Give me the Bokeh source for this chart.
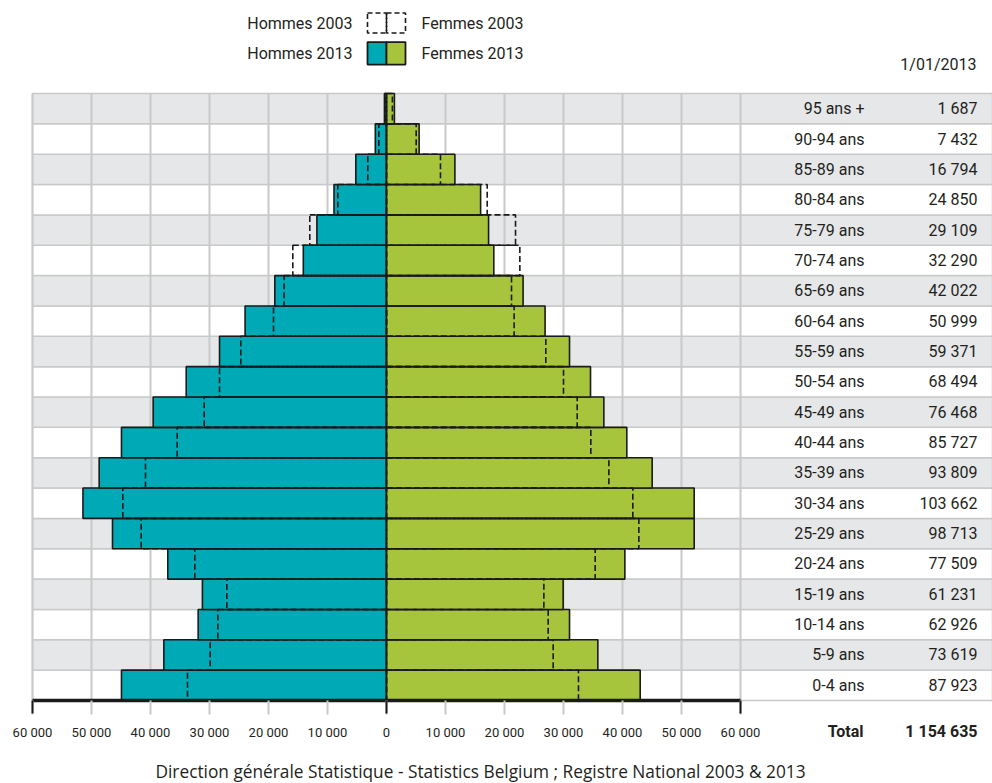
from bokeh.plotting import figure
from bokeh.models import Range1d, FixedTicker
from bokeh.core.properties import value
from bokeh.embed import file_html
from bokeh.resources import INLINE

# ---------------- data ----------------
ages = ["0-4 ans", "5-9 ans", "10-14 ans", "15-19 ans", "20-24 ans", "25-29 ans",
        "30-34 ans", "35-39 ans", "40-44 ans", "45-49 ans", "50-54 ans", "55-59 ans",
        "60-64 ans", "65-69 ans", "70-74 ans", "75-79 ans", "80-84 ans", "85-89 ans",
        "90-94 ans", "95 ans +"]
totals_2013 = [87923, 73619, 62926, 61231, 77509, 98713, 103662, 93809, 85727, 76468,
               68494, 59371, 50999, 42022, 32290, 29109, 24850, 16794, 7432, 1687]
men_2013 = [44920, 37740, 31920, 31200, 37070, 46440, 51450, 48700, 44920, 39550,
            33950, 28300, 23970, 18930, 14100, 11800, 8900, 5200, 1900, 350]
women_2013 = [43000, 35820, 31020, 29940, 40400, 52150, 52150, 45030, 40730, 36840,
              34580, 31020, 26880, 23150, 18190, 17300, 15950, 11590, 5530, 1340]
men_2003 = [33730, 29890, 28590, 27060, 32490, 41580, 44690, 40850, 35480, 30900,
            28300, 24700, 19150, 17360, 15880, 13000, 8250, 3170, 1300, 250]
women_2003 = [32540, 28250, 27400, 26670, 35370, 42770, 41750, 37690, 34630, 32320,
              30000, 27000, 21630, 21190, 22600, 21870, 17070, 9150, 5030, 1000]
x_ticks = [-60000, -50000, -40000, -30000, -20000, -10000, 0,
           10000, 20000, 30000, 40000, 50000, 60000]
strong_ticks = [-60000, 0, 60000]
legend_men = ["Hommes 2003", "Hommes 2013"]
legend_women = ["Femmes 2003", "Femmes 2013"]
date_label = "1/01/2013"
total_label = "Total"
source_text = "Direction générale Statistique - Statistics Belgium ; Registre National 2003 & 2013"


def fmt(v):
    return f"{abs(v):,}".replace(",", " ")


# ---------------- geometry helpers (pixel -> data) ----------------
W, H = 992, 783
X0_PX, X1_PX = 32, 740          # positions of -60000 and +60000
PX = (X1_PX - X0_PX) / 120000.0
TOP_PX, BOT_PX = 93, 700        # top of first row, bottom of last row
N = len(ages)
ROW = (BOT_PX - TOP_PX) / N


def dx(px):
    return -60000 + (px - X0_PX) / PX


def dy(py):
    return N - 0.5 + (TOP_PX - py) / ROW


FONT = "Roboto"
TXT = "#231f20"
TEAL = "#00a9b6"
GREEN = "#a7c43d"
EDGE = "#1a1a1a"
GRIDC = "#c9c9c9"

p = figure(width=W, height=H, x_range=Range1d(dx(0), dx(W)), y_range=Range1d(dy(H), dy(0)),
           output_backend="svg", toolbar_location=None, y_axis_location=None,
           min_border_left=0, min_border_right=0, min_border_top=0, min_border_bottom=0,
           outline_line_color=None, background_fill_color="white", border_fill_color="white")
p.xgrid.visible = False
p.ygrid.visible = False

idx = list(range(N))
stripe_colors = ["#e6e7e9" if i % 2 else "#ffffff" for i in idx]
p.hbar(y=idx, left=-60000, right=dx(W), height=1, fill_color=stripe_colors,
       line_color=GRIDC, line_width=1.5)
p.segment(x0=x_ticks, y0=-0.5, x1=x_ticks, y1=N - 0.5, line_color=GRIDC, line_width=2)

# 2013 bars
p.hbar(y=idx, left=[-m for m in men_2013], right=0, height=1, fill_color=TEAL,
       line_color=EDGE, line_width=1.6)
p.hbar(y=idx, left=0, right=women_2013, height=1, fill_color=GREEN,
       line_color=EDGE, line_width=1.6)
# 2003 outlines
p.hbar(y=idx, left=[-m for m in men_2003], right=0, height=1, fill_color=None,
       line_color=EDGE, line_width=1.6, line_dash="6 3")
p.hbar(y=idx, left=0, right=women_2003, height=1, fill_color=None,
       line_color=EDGE, line_width=1.6, line_dash="6 3")

# table on the right
p.text(x=dx(864), y=idx, text=ages, text_align="right", text_baseline="middle",
       text_font=value(FONT), text_font_size="16px", text_color=TXT)
p.text(x=dx(977), y=idx, text=[fmt(t) for t in totals_2013], text_align="right",
       text_baseline="middle", text_font=value(FONT), text_font_size="16px", text_color=TXT)

# legend
ly = [dy(22.5), dy(52.8)]
p.hbar(y=[ly[0], ly[0]], left=[dx(367), 0], right=[0, dx(405)], height=0.66,
       fill_color=None, line_color=EDGE, line_width=1.6, line_dash="5 3")
p.hbar(y=[ly[1]], left=[dx(367)], right=[0], height=0.74, fill_color=TEAL,
       line_color=EDGE, line_width=1.8)
p.hbar(y=[ly[1]], left=[0], right=[dx(405)], height=0.74, fill_color=GREEN,
       line_color=EDGE, line_width=1.8)
p.text(x=dx(352), y=ly, text=legend_men, text_align="right", text_baseline="middle",
       text_font=value(FONT), text_font_size="16px", text_color=TXT)
p.text(x=dx(421), y=ly, text=legend_women, text_align="left", text_baseline="middle",
       text_font=value(FONT), text_font_size="16px", text_color=TXT)
p.text(x=[dx(976)], y=[dy(64)], text=[date_label], text_align="right", text_baseline="middle",
       text_font=value(FONT), text_font_size="16px", text_color=TXT)

# totals row and source line
p.text(x=[dx(863)], y=[dy(731)], text=[total_label], text_align="right",
       text_baseline="middle", text_font=value(FONT), text_font_size="16px",
       text_font_style="bold", text_color=TXT)
p.text(x=[dx(977)], y=[dy(731)], text=[fmt(sum(totals_2013))], text_align="right",
       text_baseline="middle", text_font=value(FONT), text_font_size="16px",
       text_font_style="bold", text_color=TXT)
p.text(x=[dx(480)], y=[dy(771)], text=[source_text], text_align="center",
       text_baseline="middle", text_font=value("Open Sans"), text_font_size="17.3px",
       text_color=TXT)

# axis, fixed at the bottom of the last row
ax = p.xaxis[0]
ax.fixed_location = -0.5
ax.ticker = FixedTicker(ticks=x_ticks, minor_ticks=strong_ticks)
ax.bounds = (-60000, 60000)
ax.major_label_overrides = {t: fmt(t) for t in x_ticks}
ax.axis_line_width = 3.5
ax.axis_line_color = EDGE
ax.major_tick_line_color = GRIDC
ax.major_tick_line_width = 2
ax.major_tick_in = 0
ax.major_tick_out = 14
ax.minor_tick_line_color = EDGE
ax.minor_tick_line_width = 2
ax.minor_tick_in = 0
ax.minor_tick_out = 13
ax.major_label_standoff = 10
ax.major_label_text_font = FONT
ax.major_label_text_font_size = "13px"
ax.major_label_text_color = TXT

open("out.html", "w").write(file_html(p, INLINE))
